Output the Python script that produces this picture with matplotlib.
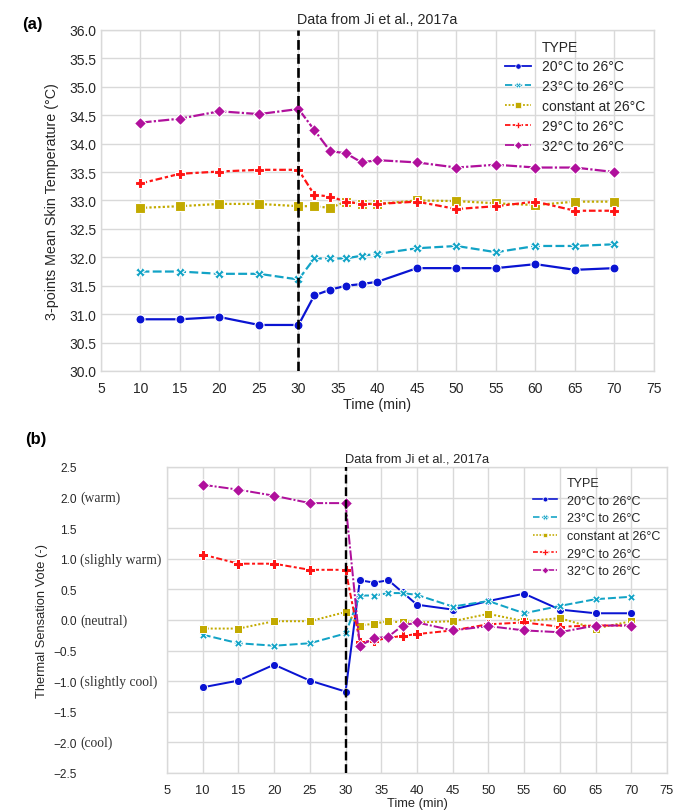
import matplotlib
matplotlib.use("Agg")
import matplotlib.pyplot as plt
import matplotlib.transforms as mtransforms
from matplotlib.lines import Line2D

# ---------------- data ----------------
types = ["20°C to 26°C", "23°C to 26°C", "constant at 26°C", "29°C to 26°C", "32°C to 26°C"]
times = [10, 15, 20, 25, 30, 32, 34, 36, 38, 40, 45, 50, 55, 60, 65, 70]

skin_20 = [30.91, 30.91, 30.95, 30.81, 30.81, 31.33, 31.43, 31.50, 31.53, 31.57, 31.81, 31.81, 31.81, 31.88, 31.78, 31.81]
skin_23 = [31.75, 31.75, 31.71, 31.71, 31.61, 31.98, 31.98, 31.98, 32.03, 32.06, 32.16, 32.20, 32.09, 32.20, 32.20, 32.23]
skin_26 = [32.87, 32.90, 32.94, 32.94, 32.90, 32.90, 32.87, 32.98, 32.94, 32.94, 33.00, 32.99, 32.95, 32.92, 32.98, 32.98]
skin_29 = [33.30, 33.47, 33.51, 33.54, 33.54, 33.10, 33.07, 32.98, 32.94, 32.94, 32.98, 32.85, 32.90, 32.98, 32.82, 32.82]
skin_32 = [34.37, 34.44, 34.57, 34.52, 34.61, 34.24, 33.87, 33.83, 33.67, 33.71, 33.67, 33.58, 33.63, 33.58, 33.58, 33.50]

tsv_20 = [-1.10, -0.99, -0.73, -0.99, -1.17, 0.65, 0.61, 0.65, 0.45, 0.25, 0.17, 0.31, 0.43, 0.17, 0.11, 0.11]
tsv_23 = [-0.24, -0.38, -0.42, -0.38, -0.22, 0.40, 0.40, 0.44, 0.44, 0.41, 0.22, 0.31, 0.11, 0.23, 0.34, 0.38]
tsv_26 = [-0.14, -0.14, -0.02, -0.02, 0.13, -0.09, -0.06, -0.02, -0.04, -0.04, -0.02, 0.10, -0.02, 0.03, -0.14, -0.02]
tsv_29 = [1.07, 0.92, 0.92, 0.82, 0.82, -0.36, -0.34, -0.29, -0.26, -0.23, -0.17, -0.07, -0.04, -0.11, -0.09, -0.09]
tsv_32 = [2.21, 2.13, 2.03, 1.91, 1.91, -0.42, -0.30, -0.27, -0.09, -0.04, -0.17, -0.10, -0.17, -0.20, -0.09, -0.09]

xticks = [5, 10, 15, 20, 25, 30, 35, 40, 45, 50, 55, 60, 65, 70, 75]
skin_yticks = [30.0, 30.5, 31.0, 31.5, 32.0, 32.5, 33.0, 33.5, 34.0, 34.5, 35.0, 35.5, 36.0]
tsv_yticks = [2.5, 2.0, 1.5, 1.0, 0.5, 0.0, -0.5, -1.0, -1.5, -2.0, -2.5]
tsv_suffix = ["", "(warm)", "", "(slighly warm)", "", "(neutral)", "", "(slightly cool)", "", "(cool)", ""]

title_text = "Data from Ji et al., 2017a"

# ---------------- style ----------------
colors = ["#0a14d2", "#12a3c6", "#c2aa00", "#ff1414", "#b0109c"]
markers = ["o", "X", "s", "P", "D"]
dashes = ["", (4, 1.5), (1, 1), (3, 1.25, 1.5, 1.25), (5, 1, 1, 1)]
msizes = [6.5, 7.0, 6.5, 7.5, 6.5]

TXT = "#262626"
GRID = "#d9d9d9"
plt.rcParams["font.family"] = ["Liberation Sans", "DejaVu Sans"]
plt.rcParams["text.color"] = TXT
plt.rcParams["axes.labelcolor"] = TXT
plt.rcParams["xtick.color"] = TXT
plt.rcParams["ytick.color"] = TXT

fig = plt.figure(figsize=(6.81, 8.12), dpi=100)
W, H = 681.0, 812.0

def ax_rect(l, t, r, b):
    return [l / W, 1 - b / H, (r - l) / W, (b - t) / H]

ax1 = fig.add_axes(ax_rect(101, 31, 654, 372))
ax2 = fig.add_axes(ax_rect(167, 468, 667, 774))


def style_axes(ax, tick_fs):
    ax.set_facecolor("white")
    ax.grid(True, color=GRID, linewidth=1.0)
    ax.set_axisbelow(True)
    for s in ax.spines.values():
        s.set_color(GRID)
        s.set_linewidth(1.0)
    ax.tick_params(length=0, labelsize=tick_fs)


def draw_series(ax, series, scale):
    handles = [Line2D([], [], linestyle="none", label="TYPE")]
    for i, (name, vals) in enumerate(zip(types, series)):
        ln, = ax.plot(times, vals, color=colors[i], marker=markers[i],
                      markersize=msizes[i] * scale, markeredgecolor="white",
                      markeredgewidth=0.8 * scale, linewidth=1.6 * scale,
                      label=name, zorder=3)
        if dashes[i]:
            ln.set_dashes(dashes[i])
        h = Line2D([], [], color=colors[i], marker=markers[i],
                   markersize=msizes[i] * scale * 0.6, markeredgecolor="white",
                   markeredgewidth=0.5, linewidth=1.3 * scale, label=name)
        if dashes[i]:
            h.set_dashes(dashes[i])
        handles.append(h)
    ax.axvline(30, color="black", linestyle="--", linewidth=1.9 * scale,
               dashes=(3.7, 1.6), zorder=4)
    return handles

# ---------------- top panel ----------------
style_axes(ax1, 10)
h1 = draw_series(ax1, [skin_20, skin_23, skin_26, skin_29, skin_32], 1.0)
ax1.set_xlim(5, 75)
ax1.set_ylim(30, 36)
ax1.set_xticks(xticks)
ax1.set_yticks(skin_yticks)
ax1.set_yticklabels([f"{v:.1f}" for v in skin_yticks])
ax1.set_title(title_text, fontsize=10.3, color=TXT, pad=5)
ax1.set_xlabel("Time (min)", fontsize=10.3, labelpad=2)
ax1.set_ylabel("3-points Mean Skin Temperature (°C)", fontsize=10.3, labelpad=7)
ax1.tick_params(axis="x", pad=7)
ax1.legend(handles=h1, loc="upper left", bbox_to_anchor=(499 / W, 1 - 35 / H),
           bbox_transform=fig.transFigure, frameon=False, fontsize=10,
           labelspacing=0.42, handlelength=1.9, handletextpad=0.8,
           borderaxespad=0)
fig.text(22 / W, 1 - 25 / H, "(a)", fontsize=12, fontweight="bold",
         color="black", ha="left", va="center")

# ---------------- bottom panel ----------------
style_axes(ax2, 9.3)
h2 = draw_series(ax2, [tsv_20, tsv_23, tsv_26, tsv_29, tsv_32], 0.9)
ax2.set_xlim(5, 75)
ax2.set_ylim(-2.5, 2.5)
ax2.set_xticks(xticks)
ax2.set_yticks(tsv_yticks)
ax2.set_yticklabels([f"{v:.1f}".replace("-", "\u2212") for v in tsv_yticks])
ax2.tick_params(axis="y", labelsize=8.6, pad=(167 - 77) * 72 / 100)
ax2.tick_params(axis="x", pad=8)
ax2.set_title(title_text, fontsize=9.3, color=TXT, pad=4)
ax2.set_xlabel("Time (min)", fontsize=9.3, labelpad=1)
ax2.set_ylabel("Thermal Sensation Vote (-)", fontsize=9.3, labelpad=4)
trans = mtransforms.blended_transform_factory(fig.transFigure, ax2.transData)
for v, s in zip(tsv_yticks, tsv_suffix):
    if s:
        ax2.text(80 / W, v, s, transform=trans, fontsize=9.8,
                 family=["Liberation Serif", "DejaVu Serif"], color="#333333",
                 ha="left", va="center", clip_on=False)
ax2.legend(handles=h2, loc="upper left", bbox_to_anchor=(528 / W, 1 - 473 / H),
           bbox_transform=fig.transFigure, frameon=False, fontsize=9,
           labelspacing=0.45, handlelength=1.9, handletextpad=0.8,
           borderaxespad=0)
fig.text(25 / W, 1 - 440 / H, "(b)", fontsize=12, fontweight="bold",
         color="black", ha="left", va="center")

fig.savefig("out.png", dpi=100, facecolor="white")
